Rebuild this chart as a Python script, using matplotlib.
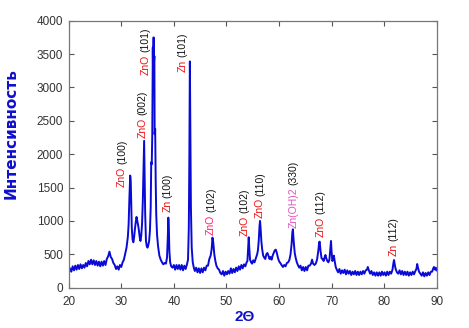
import matplotlib
matplotlib.use("Agg")
import matplotlib.pyplot as plt

plt.rcParams['font.family'] = ['Liberation Sans', 'DejaVu Sans']

two_theta = [20.0, 20.25, 20.5, 20.75, 21.0, 21.25, 21.5, 21.75, 22.0, 22.25, 22.5, 22.75, 23.0, 23.25, 23.5, 23.75,
             24.0, 24.25, 24.5, 24.75, 25.0, 25.25, 25.5, 25.75, 26.0, 26.25, 26.5, 26.75, 27.0, 27.25, 27.5, 27.75,
             28.0, 28.25, 28.5, 28.75, 29.0, 29.25, 29.5, 29.75, 30.0, 30.25, 30.5, 30.75, 31.0, 31.25,
             31.4, 31.55, 31.7, 31.8, 31.9, 32.0, 32.15, 32.3, 32.45, 32.6, 32.75, 32.9, 33.05, 33.2, 33.35, 33.5,
             33.65, 33.8, 33.95, 34.1, 34.25, 34.35, 34.45, 34.55, 34.7, 34.85, 35.0, 35.15, 35.3, 35.45, 35.6,
             35.7, 35.8, 35.9, 36.0, 36.05, 36.1, 36.15, 36.2, 36.3, 36.35, 36.45, 36.55, 36.65, 36.8, 37.0, 37.25,
             37.5, 37.75, 38.0, 38.25, 38.5, 38.7, 38.85, 38.95, 39.05, 39.15, 39.3, 39.5, 39.75, 40.0, 40.25, 40.5,
             40.75, 41.0, 41.25, 41.5, 41.75, 42.0, 42.25, 42.5, 42.7, 42.85, 42.95, 43.05, 43.15, 43.25, 43.4,
             43.6, 43.8, 44.0, 44.25, 44.5, 44.75, 45.0, 45.25, 45.5, 45.75, 46.0, 46.25, 46.5, 46.75, 47.0, 47.2,
             47.35, 47.5, 47.7, 47.9, 48.1, 48.35, 48.6, 48.85, 49.1, 49.35, 49.6, 49.85, 50.1, 50.35, 50.6, 50.85,
             51.1, 51.35, 51.6, 51.85, 52.1, 52.35, 52.6, 52.85, 53.1, 53.35, 53.6, 53.85, 54.0, 54.15, 54.25,
             54.35, 54.5, 54.7, 54.9, 55.1, 55.35, 55.6, 55.85, 56.0, 56.15, 56.3, 56.4, 56.5, 56.65, 56.8, 57.0,
             57.2, 57.4, 57.6, 57.8, 58.0, 58.2, 58.4, 58.6, 58.8, 59.0, 59.2, 59.4, 59.6, 59.8, 60.0, 60.25, 60.5,
             60.75, 61.0, 61.25, 61.5, 61.75, 62.0, 62.2, 62.4, 62.55, 62.65, 62.8, 63.0, 63.2, 63.4, 63.6, 63.85,
             64.1, 64.35, 64.6, 64.85, 65.1, 65.35, 65.6, 65.85, 66.1, 66.3, 66.5, 66.75, 67.0, 67.25, 67.5, 67.65,
             67.75, 67.9, 68.1, 68.3, 68.5, 68.7, 68.85, 69.0, 69.2, 69.4, 69.6, 69.8, 69.9, 70.0, 70.15, 70.3,
             70.45, 70.6, 70.8, 71.0, 71.25, 71.5, 71.75, 72.0, 72.25, 72.5, 72.75, 73.0, 73.25, 73.5, 73.75, 74.0,
             74.25, 74.5, 74.75, 75.0, 75.25, 75.5, 75.75, 76.0, 76.25, 76.5, 76.75, 76.9, 77.1, 77.35, 77.6, 77.85,
             78.1, 78.35, 78.6, 78.85, 79.1, 79.35, 79.6, 79.85, 80.1, 80.35, 80.6, 80.85, 81.1, 81.35, 81.6, 81.8,
             81.9, 82.0, 82.2, 82.45, 82.7, 82.95, 83.2, 83.45, 83.7, 83.95, 84.2, 84.45, 84.7, 84.95, 85.2, 85.45,
             85.7, 85.95, 86.15, 86.3, 86.45, 86.65, 86.9, 87.15, 87.4, 87.65, 87.9, 88.15, 88.4, 88.65, 88.9,
             89.15, 89.35, 89.5, 89.7, 89.85, 90.0]

intensity = [220, 290, 240, 320, 260, 330, 270, 340, 280, 350, 290, 340, 300, 370, 320, 400,
             350, 420, 350, 410, 340, 400, 330, 390, 320, 390, 330, 400, 340, 430, 470, 540,
             460, 430, 370, 340, 280, 320, 270, 340, 310, 380, 420, 510, 600, 760,
             950, 1350, 1680, 1600, 1250, 900, 720, 680, 760, 880, 980, 1060, 1000, 940, 860, 760,
             700, 780, 950, 1300, 1800, 2200, 1700, 1100, 700, 620, 600, 640, 700, 850, 1200,
             1880, 1850, 2300, 3600, 3150, 3480, 3750, 3350, 3470, 2300, 2380, 1600, 1100, 800, 620, 480,
             420, 380, 350, 370, 360, 450, 750, 1050, 900, 550, 380, 320, 300, 340, 270, 340,
             280, 340, 270, 340, 260, 330, 280, 350, 420, 900, 1900, 3390, 2300, 1200, 600,
             380, 300, 250, 300, 230, 290, 220, 290, 230, 300, 260, 330, 330, 430, 480, 580,
             750, 680, 500, 400, 330, 290, 270, 220, 200, 250, 180, 240, 200, 250, 210, 290,
             220, 280, 230, 300, 250, 320, 270, 340, 290, 350, 320, 380, 400, 600, 755,
             600, 420, 380, 360, 410, 380, 440, 500, 560, 700, 920, 1000, 900, 700, 580, 480,
             450, 430, 500, 520, 480, 430, 460, 420, 480, 520, 560, 570, 520, 450, 400, 370, 340,
             310, 340, 320, 370, 380, 420, 500, 650, 830, 875, 700, 520, 440, 380, 340, 300,
             330, 260, 310, 250, 310, 260, 330, 330, 360, 420, 360, 340, 360, 420, 560, 680,
             690, 560, 440, 430, 400, 460, 490, 440, 400, 380, 420, 620, 700, 560, 400, 420,
             480, 400, 310, 270, 230, 280, 210, 260, 220, 270, 200, 260, 210, 250, 190, 240,
             200, 250, 190, 240, 190, 240, 200, 250, 210, 260, 270, 310, 260, 210, 250, 190,
             230, 180, 230, 180, 230, 180, 240, 190, 230, 180, 240, 190, 240, 210, 270, 380,
             415, 360, 280, 230, 210, 260, 200, 250, 190, 240, 190, 240, 180, 230, 190, 240,
             200, 250, 280, 355, 300, 240, 210, 180, 230, 170, 220, 180, 230, 190, 240,
             240, 290, 310, 270, 300, 260]

phases = ['ZnO', 'ZnO', 'ZnO', 'Zn', 'Zn', 'ZnO', 'ZnO', 'ZnO', 'Zn(OH)2', 'ZnO', 'Zn']
hkl = ['(100)', '(002)', '(101)', '(100)', '(101)', '(102)', '(102)', '(110)', '(330)', '(112)', '(112)']
label_x = [30.15, 34.1, 34.65, 38.85, 41.6, 47.05, 53.5, 56.4, 62.8, 67.9, 81.85]
label_y = [1510, 2240, 3190, 1130, 3235, 790, 775, 1040, 890, 765, 475]
phase_colors = ['#ee1111', '#ee1111', '#ee1111', '#dd1111', '#ee1111', '#ff1f6a', '#ee1111',
                '#ee1111', '#dd55bb', '#ee1111', '#dd1111']

assert len(two_theta) == len(intensity)

fig = plt.figure(figsize=(4.69, 3.28), dpi=100)
ax = fig.add_axes([0.1465, 0.1229, 0.7845, 0.814])

ax.plot(two_theta, intensity, color='#0a0ad6', linewidth=1.4)

ax.set_xlim(20, 90)
ax.set_ylim(0, 4000)
ax.set_xticks(range(20, 91, 10))
ax.set_yticks(range(0, 4001, 500))
ax.tick_params(direction='in', length=3.5, width=0.8, colors='#555555', labelcolor='#333333',
               labelsize=8.5, top=True, right=True)
ax.tick_params(axis='x', pad=6)
ax.tick_params(axis='y', pad=4)
for s in ax.spines.values():
    s.set_color('#777777')
    s.set_linewidth(0.9)

ax.set_ylabel('Интенсивность', color='#1010cc', fontweight='bold', fontsize=11,
              family=['DejaVu Sans'])
ax.yaxis.set_label_coords(-0.135, 0.577)
ax.set_xlabel('2Θ', color='#1010cc', fontweight='bold', fontsize=11)
ax.xaxis.set_label_coords(0.479, -0.083)

fig.canvas.draw()
renderer = fig.canvas.get_renderer()
inv = ax.transData.inverted()
for ph, h, x, y, c in zip(phases, hkl, label_x, label_y, phase_colors):
    t1 = ax.text(x, y, ph, rotation=90, ha='center', va='bottom', color=c, fontsize=7.5)
    bb = t1.get_window_extent(renderer)
    top = inv.transform((bb.x0, bb.y1 + 2.5))[1]
    ax.text(x, top, h, rotation=90, ha='center', va='bottom', color='#111111', fontsize=7.5)

fig.savefig('out.png', dpi=100)
